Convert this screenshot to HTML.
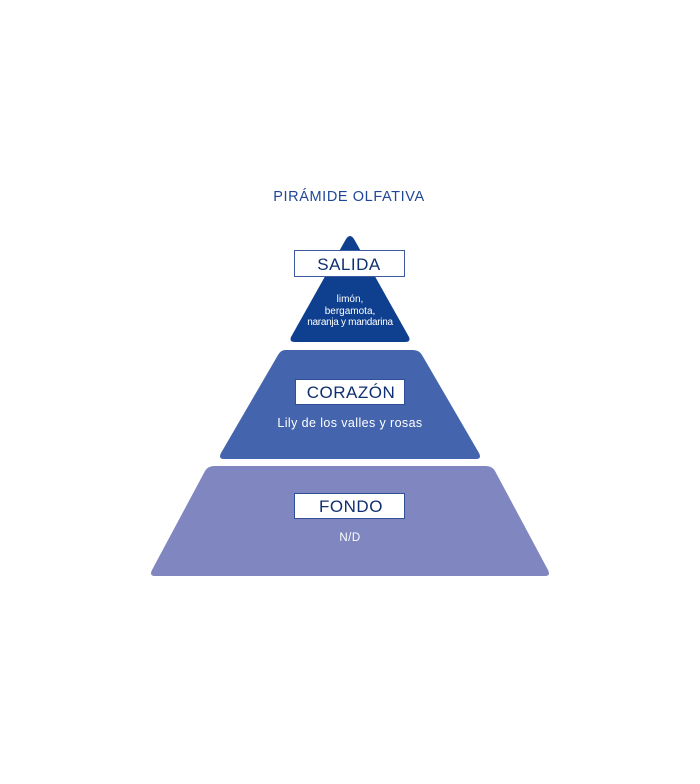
<!DOCTYPE html>
<html><head><style>
html,body{margin:0;padding:0;background:#fff;}
body{width:700px;height:784px;position:relative;overflow:hidden;font-family:"Liberation Sans",sans-serif;}
svg{position:absolute;left:0;top:0;}
</style></head><body>
<svg width="700" height="784" viewBox="0 0 700 784">
<text x="349" y="201" text-anchor="middle" font-family="Liberation Sans, sans-serif" font-size="14.5" fill="#1f4697" letter-spacing="0.6">PIRÁMIDE OLFATIVA</text>
<path d="M346,239 Q350,233 354,239 L409,337 Q411,342 405,342 L295,342 Q289,342 291,337 Z" fill="#0f3f8f"/>
<path d="M285,350 L413,350 Q419,350 422,355 L479,453 Q482,459 476,459 L224,459 Q218,459 221,453 L278,355 Q281,350 285,350 Z" fill="#4465ae"/>
<path d="M214,466 L486,466 Q492,466 495,471 L548,570 Q551,576 545,576 L155,576 Q149,576 152,570 L205,471 Q208,466 214,466 Z" fill="#7f86c0"/>
<rect x="294.5" y="250.5" width="110" height="26" fill="#fff" stroke="#3d5aa0" stroke-width="1"/>
<text x="349" y="270" text-anchor="middle" font-size="17" fill="#0f2f6f" letter-spacing="0.5">SALIDA</text>
<text x="350" y="302" text-anchor="middle" font-size="10" fill="#fff">limón,</text>
<text x="350" y="314" text-anchor="middle" font-size="10" fill="#fff">bergamota,</text>
<text x="350" y="325" text-anchor="middle" font-size="10" fill="#fff" letter-spacing="-0.3">naranja y mandarina</text>
<rect x="295.5" y="379.5" width="109" height="25" fill="#fff" stroke="#2f4f98" stroke-width="1"/>
<text x="351" y="398" text-anchor="middle" font-size="17" fill="#0f2f6f" letter-spacing="0.5">CORAZÓN</text>
<text x="350" y="427" text-anchor="middle" font-size="12.5" fill="#fff" letter-spacing="0.4">Lily de los valles y rosas</text>
<rect x="294.5" y="493.5" width="110" height="25" fill="#fff" stroke="#2f4f98" stroke-width="1"/>
<text x="351" y="512" text-anchor="middle" font-size="17" fill="#0f2f6f" letter-spacing="0.5">FONDO</text>
<text x="350" y="541" text-anchor="middle" font-size="11.5" fill="#fff" letter-spacing="0.5">N/D</text>
</svg>
</body></html>
